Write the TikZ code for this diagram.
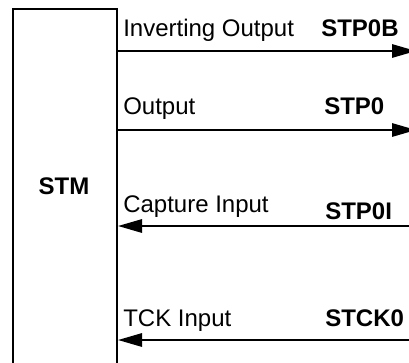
\documentclass[tikz,border=0pt]{standalone}
\usepackage{fontspec}
\setmainfont{Liberation Sans}
\usetikzlibrary{arrows.meta}

\begin{document}
\begin{tikzpicture}[x=0.75pt, y=0.75pt,
   wire/.style={line width=1.5pt, -{Triangle[length=18pt, width=10pt]}},
   sig/.style={inner sep=0pt, anchor=base west, font=\fontsize{18}{21}\selectfont},
   pin/.style={sig, font=\fontsize{18}{21}\selectfont\bfseries}]
\useasboundingbox (0,0) rectangle (409,362);
\node[draw, line width=1.5pt, inner sep=0pt, minimum width=78pt, minimum height=273pt, anchor=north west] (stm) at (12,354) {};
\node[pin, anchor=base] (stmname) at (64,168) {STM};
% outputs
\coordinate (stpb) at (416,311);
\coordinate (stp) at (416,232);
\draw[wire] (stm.east |- stpb) -- (stpb);
\draw[wire] (stm.east |- stp) -- (stp);
% inputs
\coordinate (stpi) at (412,136);
\coordinate (stck) at (412,22);
\draw[wire] (stpi) -- (stpi -| stm.east);
\draw[wire] (stck) -- (stck -| stm.east);
% labels
\node[sig] (invlbl) at (123,326) {Inverting Output};
\node[pin] (stpblbl) at (321,326) {STP0B};
\node[sig] (outlbl) at (123,247.5) {Output};
\node[pin] (stplbl) at (324,247.5) {STP0};
\node[sig] (caplbl) at (123,149.5) {Capture Input};
\node[pin] (stpilbl) at (325,143) {STP0I};
\node[sig] (tcklbl) at (123,36) {TCK Input};
\node[pin] (stcklbl) at (325,36) {STCK0};
\end{tikzpicture}
\end{document}
